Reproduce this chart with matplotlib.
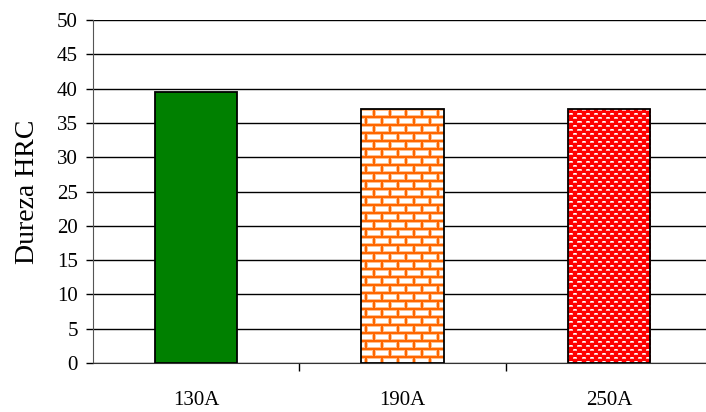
import numpy as np
import matplotlib
matplotlib.use("Agg")
import matplotlib.pyplot as plt

categories = ["130A", "190A", "250A"]
values = [39.5, 37.0, 37.0]
y_ticks = [0, 5, 10, 15, 20, 25, 30, 35, 40, 45, 50]
ylabel = "Dureza HRC"

W, H, DPI = 706, 412, 100
fig = plt.figure(figsize=(W / DPI, H / DPI), dpi=DPI)
left, right, bottom, top = 93 / W, 712 / W, 1 - 363 / H, 1 - 20 / H
ax = fig.add_axes([left, bottom, right - left, top - bottom])
plt.rcParams['font.family'] = ['Liberation Serif']

x = np.arange(len(categories))
bars = ax.bar(x, values, width=0.4, edgecolor='black', linewidth=1.3, zorder=3)
bars[0].set_facecolor('#008000')
bars[1].set_facecolor('white')
bars[2].set_facecolor('#ff0000')

ax.set_xlim(-0.5, len(categories) - 0.5)
ax.set_ylim(0, 50)

# texture images (pixel-level patterns)
pw = int(round((right - left) * W))
ph = int(round((top - bottom) * H))
yy, xx = np.mgrid[0:ph, 0:pw]

# brick pattern: orange mortar on white
brick = np.ones((ph, pw, 3))
orange = np.array([1.0, 0.4, 0.0])
light_orange = np.array([1.0, 0.75, 0.55])
row = (yy // 8)
offs = np.where(row % 2 == 0, 0, 8)
ym = yy % 8
xm = (xx + offs) % 16
core = (ym < 2) | (xm < 2)
halo = (ym == 2) | (ym == 7) | (xm == 2) | (xm == 15)
brick[halo] = light_orange
brick[core] = orange

# red pattern with small white dashes
red = np.zeros((ph, pw, 3))
red[:] = [1.0, 0.0, 0.0]
r2 = yy // 4
offs2 = np.where(r2 % 2 == 0, 0, 4)
xm2 = (xx + offs2) % 8
ym2 = yy % 4
dash_outer = (ym2 >= 1) & (ym2 <= 2) & (xm2 < 4)
dash_inner = (ym2 == 1) & (xm2 >= 1) & (xm2 <= 2)
red[dash_outer] = [1.0, 0.7, 0.7]
red[dash_inner] = [1.0, 1.0, 1.0]

for img, b in [(brick, bars[1]), (red, bars[2])]:
    im = ax.imshow(img, extent=(-0.5, len(categories) - 0.5, 0, 50), origin='upper',
                   aspect='auto', interpolation='nearest', zorder=2.5)
    im.set_clip_path(b)
for b in (bars[1], bars[2]):
    b.set_facecolor('none')
    b.set_zorder(4)

ax.set_yticks(y_ticks)
ax.yaxis.grid(True, color='black', linewidth=1.0, zorder=1)
ax.set_axisbelow(True)
ax.set_xticks(x)
ax.set_xticklabels(categories, fontsize=15, family='Liberation Serif')
ax.set_xticks(np.arange(0.5, len(categories) - 0.5, 1.0), minor=True)
ax.tick_params(axis='x', which='major', length=0, pad=20)
ax.tick_params(axis='x', which='minor', length=6, width=1, direction='out')
ax.tick_params(axis='y', length=5, width=1, direction='out', pad=6, labelsize=15)
for lab in ax.get_yticklabels():
    lab.set_family('Liberation Serif')
ax.set_ylabel(ylabel, fontsize=20, family='Liberation Serif', labelpad=12)

for s in ['top', 'right']:
    ax.spines[s].set_visible(False)
ax.spines['left'].set_color('#555555')
ax.spines['bottom'].set_color('#333333')

fig.savefig('out.png', dpi=DPI)
